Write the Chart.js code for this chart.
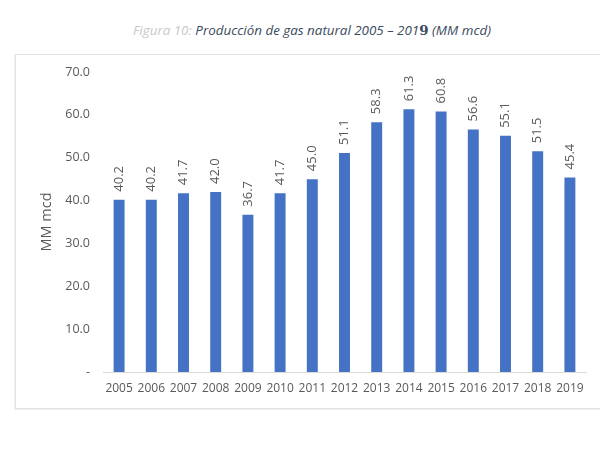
<!DOCTYPE html>
<html>
<head>
<meta charset="utf-8">
<script src="https://cdn.jsdelivr.net/npm/chart.js@4.4.1/dist/chart.umd.min.js"></script>
<style>
  html, body { margin: 0; padding: 0; background: #fff; }
  #wrap { position: relative; width: 600px; height: 451px; overflow: hidden; }
  #box { position: absolute; left: 15px; top: 54px; width: 620px; height: 353px; border: 1px solid #e3e3e3; box-shadow: -1px 1px 0 #f0f0f0; }
  #title { position: absolute; left: 12px; width: 600px; top: 21px; text-align: center; font-family: "Open Sans", sans-serif; font-size: 13.4px; font-style: italic; color: #3b4a5e; white-space: nowrap; }
  #title .lbl { color: #c8c8c8; }
  #title .b { font-weight: bold; font-style: normal; font-family: "DejaVu Serif", serif; }
  canvas { position: absolute; left: 0; top: 0; }
</style>
</head>
<body>
<div id="wrap">
  <div id="box"></div>
  <div id="title"><span class="lbl">Figura 10:</span> Producción de gas natural 2005 – 201<span class="b">9</span> (MM mcd)</div>
  <canvas id="c" width="600" height="451"></canvas>
</div>
<script>
const categories = ["2005","2006","2007","2008","2009","2010","2011","2012","2013","2014","2015","2016","2017","2018","2019"];
const production = [40.2, 40.2, 41.7, 42.0, 36.7, 41.7, 45.0, 51.1, 58.3, 61.3, 60.8, 56.6, 55.1, 51.5, 45.4];
const yTicks = [0, 10, 20, 30, 40, 50, 60, 70];
const yTitle = "MM mcd";

const FONT = "Open Sans";
const labelPlugin = {
  id: 'vlabels',
  afterDatasetsDraw(chart) {
    const ctx = chart.ctx;
    const meta = chart.getDatasetMeta(0);
    ctx.save();
    ctx.font = '13px "' + FONT + '"';
    ctx.fillStyle = '#595959';
    ctx.textAlign = 'left';
    ctx.textBaseline = 'middle';
    meta.data.forEach((bar, i) => {
      ctx.save();
      ctx.translate(bar.x, bar.y - 8);
      ctx.rotate(-Math.PI / 2);
      ctx.fillText(production[i].toFixed(1), 0, 0);
      ctx.restore();
    });
    ctx.restore();
  }
};

new Chart(document.getElementById('c'), {
  type: 'bar',
  data: {
    labels: categories,
    datasets: [{
      data: production,
      backgroundColor: '#4472C4',
      barPercentage: 0.34,
      categoryPercentage: 1.0
    }]
  },
  options: {
    responsive: false,
    animation: false,
    layout: { padding: { top: 72, right: 14, bottom: 47, left: 38 } },
    plugins: { legend: { display: false }, tooltip: { enabled: false } },
    scales: {
      x: {
        grid: { display: false, drawTicks: false },
        border: { color: '#d9d9d9', width: 1 },
        ticks: { color: '#595959', font: { family: FONT, size: 12 }, padding: 9, maxRotation: 0, autoSkip: false },
        afterFit(s) { s.height = 32; }
      },
      y: {
        min: 0, max: 70,
        afterBuildTicks(s) { s.ticks = yTicks.map(v => ({ value: v })); },
        grid: { display: false, drawTicks: false },
        border: { display: false },
        ticks: {
          color: '#595959', font: { family: FONT, size: 12.5 }, padding: 13,
          callback: v => v === 0 ? '-' : v.toFixed(1)
        },
        title: { display: true, text: yTitle, color: '#595959', font: { family: FONT, size: 14.5 }, padding: 0 },
        afterFit(s) { s.width = 65; }
      }
    }
  },
  plugins: [labelPlugin]
});
</script>
</body>
</html>
